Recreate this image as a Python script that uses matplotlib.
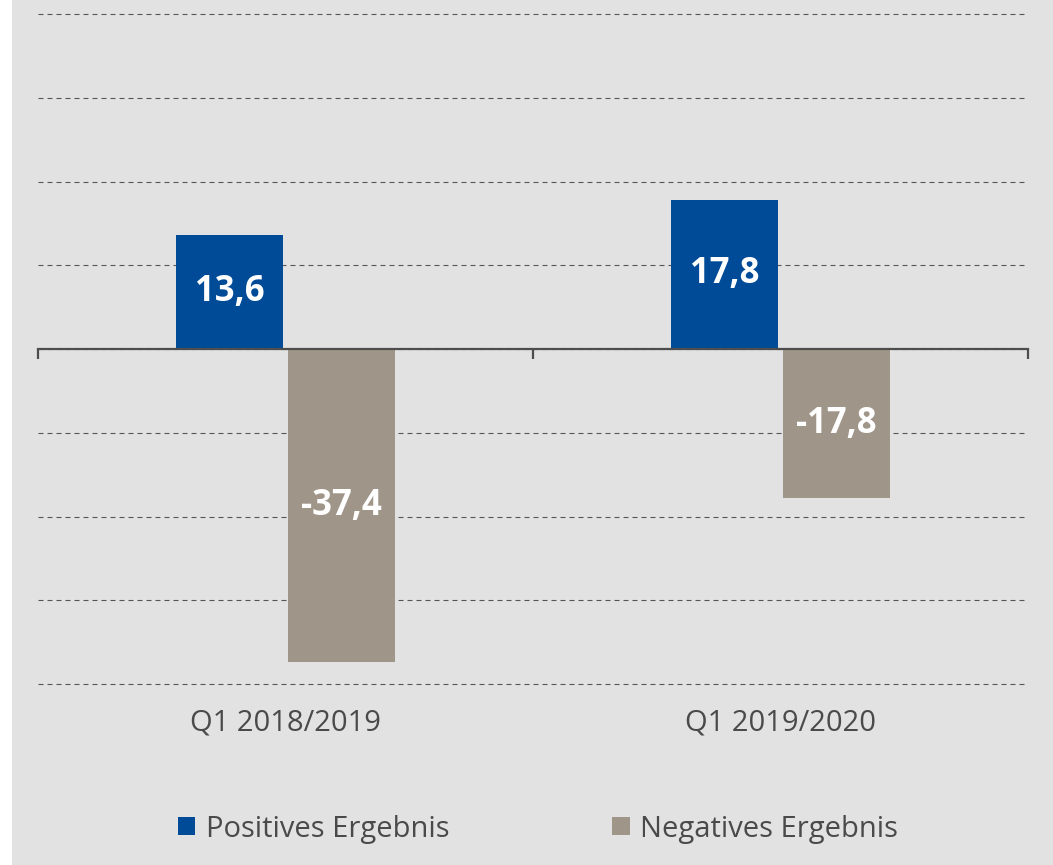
import matplotlib
matplotlib.use("Agg")
import matplotlib.pyplot as plt
from matplotlib.patches import Rectangle, Patch
import numpy as np

categories = ["Q1 2018/2019", "Q1 2019/2020"]
positive = [13.6, 17.8]
negative = [-37.4, -17.8]
series_names = ["Positives Ergebnis", "Negatives Ergebnis"]
pos_labels = ["13,6", "17,8"]
neg_labels = ["-37,4", "-17,8"]

BLUE = "#004b97"
TAUPE = "#a09589"
BG = "#e2e2e2"
TXT = "#4a4a4a"

plt.rcParams['font.family'] = ['Open Sans', 'DejaVu Sans']

fig = plt.figure(figsize=(10.53, 8.65), dpi=100, facecolor="white")
fig.patches.append(Rectangle((12/1053, 0), 1, 1, transform=fig.transFigure,
                             facecolor=BG, edgecolor="none", zorder=-10))

ppu = (684 - 14) / 80.0
pad_u = 0.6
ax = fig.add_axes([38/1053, 1-(684 + pad_u*ppu)/865, (1028-38)/1053, (670 + 2*pad_u*ppu)/865])
ax.set_facecolor("none")

x = np.arange(len(categories))
w = 0.216
off = 0.113
b1 = ax.bar(x - off, positive, width=w, color=BLUE, zorder=3, label=series_names[0])
b2 = ax.bar(x + off, negative, width=w, color=TAUPE, zorder=3, label=series_names[1])

for bars, labs in ((b1, pos_labels), (b2, neg_labels)):
    for r, lab in zip(bars, labs):
        ax.text(r.get_x() + r.get_width()/2, r.get_height()/2, lab,
                ha="center", va="center", color="white", fontsize=25,
                fontweight="bold", zorder=4)

ax.set_xlim(-0.5, 1.5)
ax.set_ylim(-40 - pad_u, 40 + pad_u)
ax.set_yticks(np.arange(-40, 41, 10))
ax.tick_params(axis="y", left=False, labelleft=False)
ax.grid(axis="y", color="#555555", linewidth=0.8, linestyle=(0, (4.5, 3.6)), zorder=1)
for s in ("left", "right", "top"):
    ax.spines[s].set_visible(False)
ax.spines["bottom"].set_position(("data", 0))
ax.spines["bottom"].set_color("#4d4d4d")
ax.spines["bottom"].set_linewidth(1.6)
ax.spines["bottom"].set_zorder(5)
ax.set_xticks(x)
ax.set_xticklabels([])
ax.tick_params(axis="x", which="major", length=0)
ax.set_xticks([-0.5, 0.5, 1.5], minor=True)
ax.tick_params(axis="x", which="minor", length=7, width=1.6, color="#4d4d4d", direction="out")

sec = ax.secondary_xaxis("bottom")
sec.set_xticks(x)
sec.set_xticklabels(categories, fontsize=21, color=TXT)
sec.tick_params(length=0, pad=14)
sec.spines["bottom"].set_visible(False)

handles = [Patch(facecolor=BLUE, edgecolor="none"), Patch(facecolor=TAUPE, edgecolor="none")]
leg = fig.legend(handles, series_names, loc="center", bbox_to_anchor=(538/1053, 1-829/865),
                 ncol=2, frameon=False, fontsize=21, handlelength=0.6, handleheight=0.6,
                 handletextpad=0.35, columnspacing=5.6, labelcolor=TXT, borderpad=0)

fig.savefig("out.png", dpi=100, facecolor=fig.get_facecolor())
